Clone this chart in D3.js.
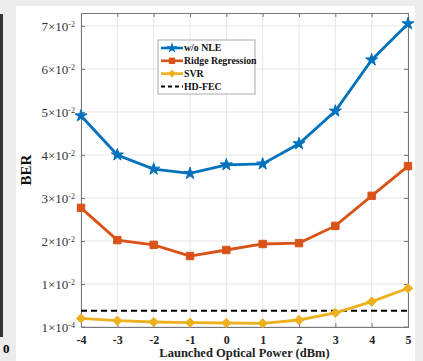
<!DOCTYPE html>
<html>
<head>
<meta charset="utf-8">
<script src="https://cdn.jsdelivr.net/npm/d3@7"></script>
<style>
  html, body { margin: 0; padding: 0; background: #ececec; }
  svg { display: block; }
</style>
</head>
<body>
<div id="chart"></div>
<script>
const powers = [-4, -3, -2, -1, 0, 1, 2, 3, 4, 5];
const berNoNle = [0.0491, 0.0400, 0.0367, 0.0357, 0.0377, 0.0379, 0.0426, 0.0502, 0.0621, 0.0705];
const berRidge = [0.0277, 0.0202, 0.0191, 0.0165, 0.0179, 0.0193, 0.0195, 0.0235, 0.0305, 0.0374];
const berSvr = [0.0020, 0.00147, 0.00116, 0.0010, 0.00093, 0.00086, 0.00163, 0.0033, 0.0059, 0.0090];
const hdFec = 0.0038;
const yTicks = [0.0001, 0.01, 0.02, 0.03, 0.04, 0.05, 0.06, 0.07];
const yTickMant = ['1', '1', '2', '3', '4', '5', '6', '7'];
const yTickExp = ['-4', '-2', '-2', '-2', '-2', '-2', '-2', '-2'];

const width = 423;
const height = 361;
const margin = { top: 13, right: 15, bottom: 34, left: 81 };

const svg = d3.select('#chart')
    .append('svg')
    .attr('width', width)
    .attr('height', height);

// side panel remnants
svg.append('rect').attr('x', 0).attr('y', 14).attr('width', 3).attr('height', 323).attr('fill', '#333');
svg.append('text').attr('x', 3).attr('y', 353)
    .attr('font-family', 'Liberation Serif').attr('font-weight', 'bold').attr('font-size', 13)
    .text('0');

svg.append('rect').attr('x', 16).attr('y', 6).attr('width', 399).attr('height', 355).attr('fill', '#fff');

const x = d3.scaleLinear().domain([-4, 5]).range([margin.left, width - margin.right]);
const y = d3.scaleLinear().domain([0, 0.073]).range([height - margin.bottom, margin.top]);

const x0 = x.range()[0], x1 = x.range()[1];
const y0 = y.range()[0], y1 = y.range()[1];

// grid
svg.append('g').selectAll('line').data(powers).enter().append('line')
    .attr('x1', d => x(d)).attr('x2', d => x(d)).attr('y1', y0).attr('y2', y1)
    .attr('stroke', '#e6e6e6').attr('stroke-width', 1);
svg.append('g').selectAll('line').data(yTicks).enter().append('line')
    .attr('x1', x0).attr('x2', x1).attr('y1', d => y(d)).attr('y2', d => y(d))
    .attr('stroke', '#e6e6e6').attr('stroke-width', 1);

// axes
const xAxis = svg.append('g')
    .attr('transform', `translate(0,${y0})`)
    .call(d3.axisBottom(x).tickValues(powers).tickSize(-4).tickPadding(8).tickFormat(d => String(d)));
xAxis.selectAll('text')
    .attr('font-family', 'Liberation Serif').attr('font-weight', 'bold').attr('font-size', 12).attr('fill', '#222');

const xTop = svg.append('g')
    .attr('transform', `translate(0,${y1})`)
    .call(d3.axisTop(x).tickValues(powers).tickSize(-4).tickFormat(''));

const yAxis = svg.append('g')
    .attr('transform', `translate(${x0},0)`)
    .call(d3.axisLeft(y).tickValues(yTicks).tickSize(-4).tickPadding(5).tickFormat(''));
yAxis.selectAll('.tick').append('text')
    .attr('x', -6).attr('dy', '0.35em').attr('text-anchor', 'end')
    .attr('font-family', 'Liberation Serif').attr('font-size', 13).attr('fill', '#333')
    .each(function (d, i) {
        const t = d3.select(this);
        t.append('tspan').text(yTickMant[i] + '\u00d710');
        t.append('tspan').attr('dy', '-0.45em').attr('font-size', 8).text(yTickExp[i]);
    });

const yRight = svg.append('g')
    .attr('transform', `translate(${x1},0)`)
    .call(d3.axisRight(y).tickValues(yTicks).tickSize(-4).tickFormat(''));

[xAxis, xTop, yAxis, yRight].forEach(g => {
    g.selectAll('path.domain').attr('stroke', '#777').attr('stroke-width', 1);
    g.selectAll('.tick line').attr('stroke', '#777');
});

// HD-FEC threshold
svg.append('line')
    .attr('x1', x0).attr('x2', x1).attr('y1', y(hdFec)).attr('y2', y(hdFec))
    .attr('stroke', '#000').attr('stroke-width', 2).attr('stroke-dasharray', '6,4');

const series = [
    { name: 'w/o NLE', values: berNoNle, color: '#0072BD', symbol: d3.symbolStar, size: 45 },
    { name: 'Ridge Regression', values: berRidge, color: '#D95319', symbol: d3.symbolSquare, size: 55 },
    { name: 'SVR', values: berSvr, color: '#EDB120', symbol: d3.symbolDiamond2, size: 55 }
];

const line = d3.line().x((d, i) => x(powers[i])).y(d => y(d));

series.forEach(s => {
    svg.append('path')
        .datum(s.values)
        .attr('d', line)
        .attr('fill', 'none')
        .attr('stroke', s.color)
        .attr('stroke-width', 2.8);
    svg.append('g').selectAll('path').data(s.values).enter().append('path')
        .attr('d', d3.symbol().type(s.symbol).size(s.size))
        .attr('transform', (d, i) => `translate(${x(powers[i])},${y(d)})`)
        .attr('fill', s.color)
        .attr('stroke', s.color)
        .attr('stroke-width', 1);
});

// legend
const legend = svg.append('g').attr('transform', 'translate(158,40)');
legend.append('rect').attr('width', 97).attr('height', 54)
    .attr('fill', '#fff').attr('stroke', '#aaa').attr('stroke-width', 1);
const entries = series.map(s => ({ name: s.name, color: s.color, symbol: s.symbol, dash: null }))
    .concat([{ name: 'HD-FEC', color: '#000', symbol: null, dash: '4,3' }]);
entries.forEach((e, i) => {
    const ly = 8 + i * 12.8;
    legend.append('line')
        .attr('x1', 3).attr('x2', 25).attr('y1', ly).attr('y2', ly)
        .attr('stroke', e.color).attr('stroke-width', e.dash ? 2 : 2.6)
        .attr('stroke-dasharray', e.dash);
    if (e.symbol) {
        legend.append('path')
            .attr('d', d3.symbol().type(e.symbol).size(40))
            .attr('transform', `translate(14,${ly})`)
            .attr('fill', e.color);
    }
    legend.append('text')
        .attr('x', 26).attr('y', ly).attr('dy', '0.35em')
        .attr('font-family', 'Liberation Serif').attr('font-weight', 'bold').attr('font-size', 9.8)
        .attr('fill', '#111')
        .text(e.name);
});

// axis titles
svg.append('text')
    .attr('transform', `translate(31,${(y0 + y1) / 2}) rotate(-90)`)
    .attr('text-anchor', 'middle')
    .attr('font-family', 'Liberation Serif').attr('font-weight', 'bold').attr('font-size', 15)
    .attr('fill', '#111')
    .text('BER');
svg.append('text')
    .attr('x', (x0 + x1) / 2).attr('y', 357)
    .attr('text-anchor', 'middle')
    .attr('font-family', 'Liberation Serif').attr('font-weight', 'bold').attr('font-size', 12.5)
    .attr('fill', '#222')
    .text('Launched Optical Power (dBm)');
</script>
</body>
</html>
